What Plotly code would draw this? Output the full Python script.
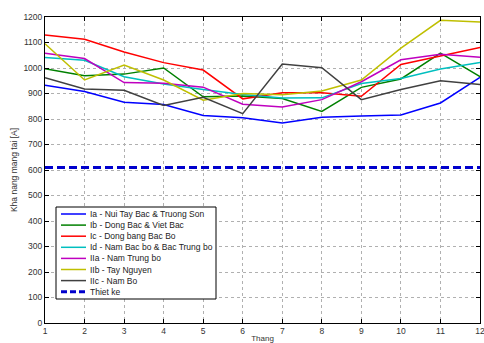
import plotly.graph_objects as go

months = list(range(1, 13))

series_names = [
    "Ia - Nui Tay Bac & Truong Son",
    "Ib - Dong Bac & Viet Bac",
    "Ic - Dong bang Bac Bo",
    "Id - Nam Bac bo & Bac Trung bo",
    "IIa - Nam Trung bo",
    "IIb - Tay Nguyen",
    "IIc - Nam Bo",
]

ia = [932, 908, 866, 857, 814, 805, 784, 807, 812, 816, 863, 963]
ib = [997, 970, 976, 1000, 887, 890, 880, 830, 924, 957, 1058, 966]
ic = [1129, 1113, 1063, 1021, 992, 879, 903, 903, 889, 1014, 1047, 1080]
id_ = [1041, 1030, 966, 937, 916, 896, 882, 883, 939, 959, 996, 1022]
iia = [1058, 1037, 943, 940, 925, 858, 847, 876, 946, 1032, 1054, 1042]
iib = [1095, 953, 1012, 953, 874, 900, 895, 910, 953, 1078, 1187, 1180]
iic = [962, 918, 913, 853, 885, 821, 1016, 1001, 876, 916, 950, 935]

design_name = "Thiet ke"
design_value = 610

colors = ["#0000ff", "#008000", "#ff0000", "#00bfbf", "#bf00bf", "#bfbf00", "#404040"]
design_color = "#0000cc"

W, H = 484, 343
ML, MR, MT, MB = 45, 4, 17, 20
PW, PH = W - ML - MR, H - MT - MB


def px_x(x):
    return (x - ML) / PW


def px_y(y):
    return (H - MB - y) / PH


fig = go.Figure()
for name, vals, col in zip(series_names, [ia, ib, ic, id_, iia, iib, iic], colors):
    fig.add_trace(go.Scatter(x=months, y=vals, mode="lines", name=name,
                             line=dict(color=col, width=1.5), showlegend=False))

fig.add_trace(go.Scatter(x=months, y=[design_value] * len(months), mode="lines",
                         name=design_name, showlegend=False,
                         line=dict(color=design_color, width=3, dash="8px,4px")))

# Compact MATLAB-style legend box drawn in paper coordinates
shapes = []
annotations = []
box_l, box_r, box_t, box_b = 56, 216, 207, 299
shapes.append(dict(type="rect", xref="paper", yref="paper",
                   x0=px_x(box_l), x1=px_x(box_r), y0=px_y(box_b), y1=px_y(box_t),
                   line=dict(color="black", width=1), fillcolor="white", layer="above"))

entries = [(n, c, "solid", 1.5) for n, c in zip(series_names, colors)]
entries.append((design_name, design_color, "6px,3px", 3))
row0, row_gap = 214, 11.1
for i, (name, col, dash, w) in enumerate(entries):
    yy = row0 + i * row_gap
    shapes.append(dict(type="line", xref="paper", yref="paper",
                       x0=px_x(61), x1=px_x(86), y0=px_y(yy), y1=px_y(yy),
                       line=dict(color=col, width=w, dash=dash), layer="above"))
    annotations.append(dict(xref="paper", yref="paper", x=px_x(88), y=px_y(yy),
                            xanchor="left", yanchor="middle", text=name,
                            showarrow=False,
                            font=dict(family="Liberation Sans, Arial, sans-serif",
                                      size=8.5, color="#222")))

axis_common = dict(
    showline=True, linecolor="black", linewidth=1, mirror="allticks",
    ticks="inside", ticklen=4, tickcolor="black",
    showgrid=True, gridcolor="#b0b0b0", griddash="dot", gridwidth=1,
    zeroline=False, ticklabeloverflow="allow",
    tickfont=dict(family="Liberation Sans, Arial, sans-serif", size=8.5, color="#333"),
)

fig.update_layout(
    width=W, height=H,
    margin=dict(l=ML, r=MR, t=MT, b=MB, autoexpand=False),
    paper_bgcolor="white", plot_bgcolor="white",
    font=dict(family="Liberation Sans, Arial, sans-serif", size=8, color="#333"),
    xaxis=dict(range=[1, 12], dtick=1, tick0=1,
               title=dict(text="Thang", standoff=1, font=dict(size=8)),
               **axis_common),
    yaxis=dict(range=[0, 1200], dtick=100, tick0=0,
               title=dict(text="Kha nang mang tai [A]", standoff=4, font=dict(size=8.5)),
               **axis_common),
    shapes=shapes,
    annotations=annotations,
    showlegend=False,
)

fig.write_html("out.html")
